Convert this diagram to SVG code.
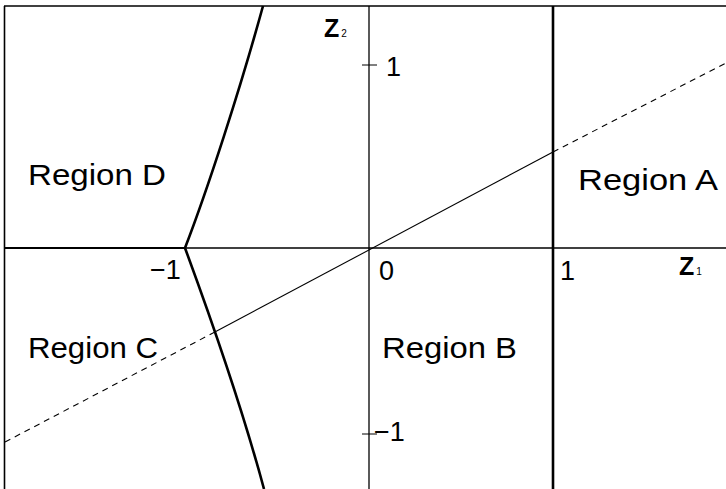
<svg xmlns="http://www.w3.org/2000/svg" width="726" height="489" viewBox="0 0 726 489">
<style>
.ln{stroke:#000;fill:none;stroke-linecap:butt}
.t{font-family:"Liberation Sans",Arial,sans-serif;fill:#000}
.reg{font-size:29px}
.num{font-size:27px}
.ax{font-size:25px;font-weight:bold}
.sub{font-size:10px;font-weight:normal}
</style>
<rect width="726" height="489" fill="#fff"/>
<g id="frame">
<line class="ln" x1="4" y1="6" x2="726" y2="6" stroke-width="1.6"/>
<line class="ln" x1="4.5" y1="6" x2="4.5" y2="489" stroke-width="1.6"/>
</g>
<g id="axes">
<line class="ln" x1="4" y1="248" x2="185" y2="248" stroke-width="2"/>
<line class="ln" x1="185" y1="248" x2="726" y2="248" stroke-width="1.3"/>
<line class="ln" x1="369" y1="6" x2="369" y2="489" stroke-width="1.3"/>
<line class="ln" x1="362" y1="65" x2="377" y2="65" stroke-width="1"/>
<line class="ln" x1="362" y1="434" x2="377" y2="434" stroke-width="1"/>
</g>
<g id="boundaries">
<line class="ln" x1="553" y1="6" x2="553" y2="489" stroke-width="2.6"/>
<path class="ln" stroke-width="2.6" d="M263,6 C240,90 207,191 185,248 C206,305 240,400 264,489"/>
<line class="ln" x1="213" y1="333" x2="553" y2="152" stroke-width="1.1"/>
<line class="ln" x1="5" y1="442" x2="213" y2="333" stroke-width="1.1" stroke-dasharray="6,5"/>
<line class="ln" x1="553" y1="152" x2="726" y2="63" stroke-width="1.1" stroke-dasharray="6,5"/>
</g>
<g id="labels">
<text class="t ax" x="324" y="37">Z<tspan class="sub" dx="2">2</tspan></text>
<text class="t ax" x="679" y="275">Z<tspan class="sub" dx="2">1</tspan></text>
<text class="t num" x="386" y="76">1</text>
<text class="t num" x="150" y="279">−1</text>
<text class="t num" x="379" y="280">0</text>
<text class="t num" x="560" y="280">1</text>
<text class="t num" x="374" y="441">−1</text>
</g>
<g id="regions">
<text class="t reg" x="28" y="185" textLength="138" lengthAdjust="spacingAndGlyphs">Region D</text>
<text class="t reg" x="578" y="190" textLength="140" lengthAdjust="spacingAndGlyphs">Region A</text>
<text class="t reg" x="28" y="358" textLength="130" lengthAdjust="spacingAndGlyphs">Region C</text>
<text class="t reg" x="382" y="358" textLength="135" lengthAdjust="spacingAndGlyphs">Region B</text>
</g>
</svg>
